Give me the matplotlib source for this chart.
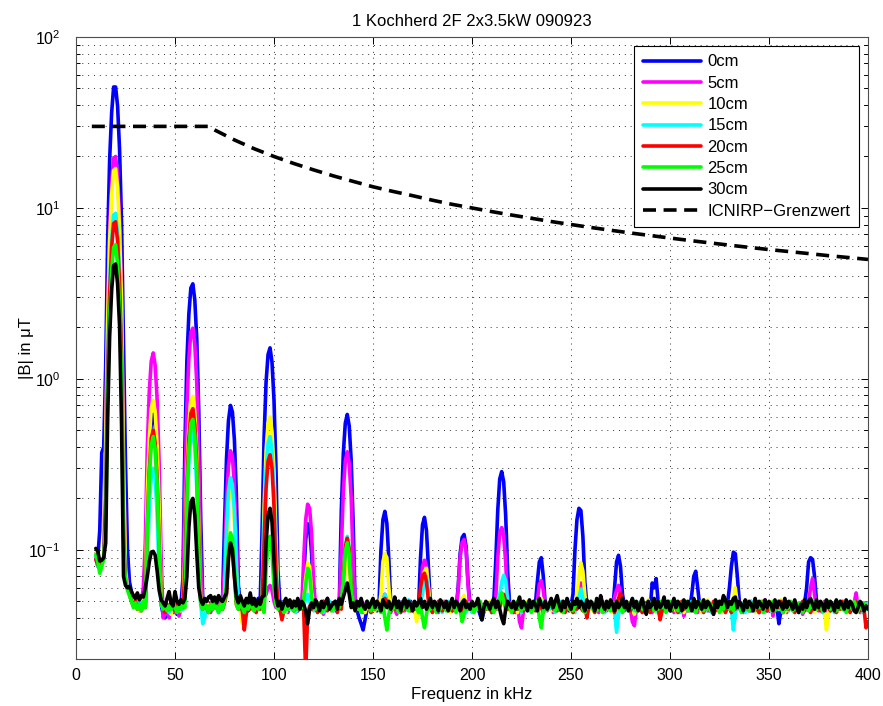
import numpy as np
import matplotlib
matplotlib.use("Agg")
import matplotlib.pyplot as plt
from matplotlib.ticker import LogLocator, FixedLocator, NullFormatter

plt.rcParams['font.family'] = ['Liberation Sans', 'DejaVu Sans']
plt.rcParams['mathtext.fontset'] = 'custom'
plt.rcParams['mathtext.rm'] = 'Liberation Sans'
plt.rcParams['mathtext.it'] = 'Liberation Sans:italic'

title = "1 Kochherd 2F 2x3.5kW 090923"
xlabel = "Frequenz in kHz"
ylabel = "|B| in μT"

# frequency bins (kHz), 1 kHz spacing from 10 to 400
freq_khz = np.arange(10, 401)

labels = ["0cm", "5cm", "10cm", "15cm", "20cm", "25cm", "30cm"]
colors = ["#0000ff", "#ff00ff", "#ffff00", "#00ffff", "#ff0000", "#00ff00", "#000000"]

# |B| values in nT, one row per 10 kHz
b_0cm_nt = [
    95, 90, 130, 370, 400, 1200, 6600, 19300, 36000, 51000,
    51000, 39500, 22000, 8200, 1600, 320, 100, 65, 57, 52,
    48, 51, 45, 49, 52, 47, 170, 360, 550, 620,
    530, 330, 140, 48, 42, 40, 44, 41, 46, 43,
    47, 42, 45, 48, 68, 410, 1270, 2400, 3400, 3600,
    2900, 1700, 650, 150, 52, 47, 44, 49, 46, 50,
    47, 52, 48, 45, 50, 140, 340, 570, 700, 640,
    440, 210, 62, 48, 45, 50, 47, 44, 49, 46,
    50, 47, 52, 48, 135, 460, 960, 1390, 1520, 1250,
    750, 300, 76, 48, 45, 50, 47, 44, 49, 46,
    50, 47, 44, 49, 46, 67, 115, 142, 134, 95,
    52, 47, 44, 49, 46, 50, 47, 52, 45, 49,
    46, 50, 47, 50, 170, 365, 550, 620, 530, 330,
    140, 48, 44, 40, 37, 34, 39, 45, 48, 46,
    49, 46, 44, 47, 99, 150, 168, 143, 88, 47,
    49, 45, 48, 50, 46, 44, 49, 47, 45, 50,
    47, 44, 48, 46, 90, 140, 155, 130, 80, 48,
    45, 49, 47, 44, 50, 46, 48, 45, 49, 47,
    44, 48, 46, 60, 95, 118, 123, 105, 65, 47,
    49, 45, 48, 46, 42, 39, 44, 48, 46, 49,
    45, 50, 86, 170, 260, 287, 250, 160, 75, 48,
    46, 49, 45, 48, 47, 44, 49, 46, 48, 45,
    49, 46, 48, 65, 85, 90, 70, 48, 45, 49,
    46, 48, 44, 49, 47, 45, 48, 46, 49, 44,
    47, 55, 100, 150, 175, 170, 120, 65, 48, 45,
    49, 46, 48, 44, 47, 49, 45, 48, 46, 49,
    47, 44, 60, 85, 93, 80, 55, 47, 45, 49,
    46, 48, 44, 47, 49, 45, 48, 46, 49, 47,
    45, 64, 60, 68, 50, 47, 44, 48, 46, 49,
    47, 45, 48, 46, 49, 44, 47, 49, 45, 48,
    46, 55, 70, 75, 60, 47, 45, 49, 46, 48,
    44, 47, 49, 45, 48, 46, 49, 47, 44, 48,
    60, 80, 97, 95, 70, 50, 46, 48, 45, 49,
    47, 44, 48, 46, 49, 45, 48, 46, 49, 44,
    47, 49, 45, 48, 46, 37, 44, 48, 46, 49,
    45, 48, 46, 49, 47, 44, 48, 46, 49, 60,
    85, 90, 88, 70, 50, 46, 49, 45, 48, 46,
    49, 44, 47, 49, 45, 48, 46, 49, 47, 44,
    48, 46, 49, 45, 48, 46, 44, 49, 47, 45,
    47,
]
b_5cm_nt = [
    90, 80, 83, 85, 90, 470, 2600, 7600, 14100, 19500,
    20000, 15500, 8700, 3200, 350, 80, 62, 58, 54, 50,
    47, 52, 44, 50, 60, 110, 390, 840, 1270, 1420,
    1200, 750, 320, 90, 40, 42, 46, 40, 44, 48,
    43, 47, 41, 45, 49, 220, 690, 1320, 1870, 1980,
    1590, 940, 360, 83, 48, 45, 50, 46, 43, 49,
    46, 50, 44, 48, 52, 77, 190, 310, 380, 350,
    240, 116, 52, 46, 49, 44, 48, 45, 50, 47,
    44, 49, 46, 50, 47, 52, 55, 60, 62, 58,
    50, 46, 49, 44, 48, 46, 50, 43, 47, 49,
    45, 48, 44, 50, 46, 88, 150, 185, 175, 124,
    65, 47, 44, 49, 46, 42, 48, 45, 50, 47,
    44, 49, 46, 48, 100, 220, 330, 375, 320, 200,
    84, 48, 45, 49, 46, 43, 48, 50, 46, 44,
    49, 47, 45, 50, 46, 52, 55, 50, 46, 43,
    48, 45, 42, 49, 46, 50, 44, 47, 45, 49,
    46, 43, 48, 45, 50, 80, 87, 80, 60, 47,
    45, 49, 46, 43, 48, 45, 50, 47, 44, 49,
    46, 48, 45, 58, 90, 110, 115, 100, 62, 46,
    49, 44, 47, 45, 50, 46, 43, 48, 45, 49,
    46, 48, 52, 90, 125, 135, 120, 85, 50, 45,
    48, 46, 43, 49, 38, 35, 44, 48, 46, 50,
    45, 48, 46, 50, 63, 66, 58, 47, 44, 49,
    46, 43, 48, 45, 50, 46, 44, 49, 46, 48,
    45, 49, 46, 50, 62, 64, 52, 47, 44, 48,
    46, 49, 45, 48, 43, 47, 50, 46, 44, 49,
    46, 48, 53, 58, 62, 55, 47, 44, 49, 46,
    45, 38, 36, 45, 49, 46, 48, 44, 47, 50,
    46, 43, 48, 45, 49, 46, 44, 48, 46, 50,
    45, 48, 43, 49, 46, 44, 48, 41, 46, 49,
    44, 47, 50, 46, 43, 48, 45, 49, 46, 44,
    48, 46, 42, 49, 45, 48, 46, 50, 44, 47,
    49, 46, 44, 48, 45, 50, 46, 43, 48, 45,
    47, 50, 44, 46, 49, 43, 47, 45, 51, 46,
    44, 49, 41, 47, 45, 50, 46, 44, 48, 43,
    48, 45, 47, 50, 44, 46, 49, 42, 47, 45,
    50, 60, 68, 55, 46, 44, 48, 45, 50, 46,
    43, 48, 45, 49, 46, 44, 48, 45, 50, 46,
    44, 48, 45, 49, 56, 46, 43, 48, 45, 49,
    46,
]
b_10cm_nt = [
    95, 85, 80, 88, 90, 400, 2200, 6400, 12000, 16600,
    17000, 13200, 7400, 2750, 300, 75, 60, 57, 52, 49,
    46, 50, 44, 48, 51, 47, 210, 440, 670, 750,
    640, 400, 170, 52, 46, 44, 48, 45, 42, 47,
    50, 45, 48, 44, 47, 90, 280, 530, 750, 790,
    640, 370, 140, 50, 46, 44, 49, 46, 48, 45,
    49, 46, 44, 48, 46, 50, 110, 190, 230, 210,
    145, 70, 48, 45, 37, 44, 48, 46, 50, 45,
    47, 44, 49, 46, 53, 180, 380, 550, 600, 490,
    290, 120, 48, 45, 49, 46, 43, 48, 45, 50,
    46, 44, 49, 46, 48, 50, 68, 84, 80, 56,
    48, 45, 49, 46, 43, 48, 45, 50, 46, 44,
    48, 45, 49, 46, 50, 55, 80, 90, 78, 50,
    46, 44, 48, 45, 49, 46, 43, 48, 45, 50,
    46, 44, 48, 45, 55, 85, 95, 90, 60, 47,
    45, 48, 46, 44, 49, 45, 48, 46, 50, 44,
    47, 45, 38, 46, 52, 65, 75, 78, 60, 46,
    48, 45, 49, 46, 44, 48, 45, 50, 46, 43,
    48, 45, 49, 46, 48, 52, 54, 48, 45, 49,
    46, 43, 48, 45, 49, 46, 44, 48, 45, 50,
    46, 44, 48, 45, 50, 53, 48, 46, 44, 49,
    46, 48, 45, 43, 49, 46, 48, 45, 50, 46,
    44, 48, 45, 49, 50, 52, 48, 45, 49, 46,
    44, 48, 45, 50, 46, 43, 48, 45, 49, 46,
    44, 48, 45, 55, 70, 84, 75, 54, 45, 49,
    46, 44, 48, 45, 50, 46, 43, 48, 45, 49,
    47, 43, 49, 46, 44, 50, 45, 47, 49, 44,
    50, 46, 42, 47, 45, 49, 44, 48, 46, 51,
    45, 47, 49, 43, 46, 50, 45, 48, 44, 47,
    49, 45, 51, 44, 47, 46, 50, 43, 48, 46,
    44, 49, 46, 50, 45, 47, 43, 49, 46, 51,
    45, 48, 44, 47, 50, 46, 49, 43, 47, 45,
    50, 46, 52, 60, 48, 45, 49, 46, 44, 48,
    45, 49, 46, 43, 48, 45, 50, 46, 44, 48,
    46, 50, 44, 47, 49, 45, 51, 46, 43, 48,
    44, 49, 46, 50, 45, 47, 49, 44, 48, 46,
    49, 45, 47, 43, 48, 45, 50, 46, 44, 34,
    42, 48, 45, 49, 46, 44, 48, 45, 50, 46,
    43, 48, 45, 49, 46, 44, 48, 45, 49, 46,
    44,
]
b_15cm_nt = [
    92, 80, 82, 86, 88, 220, 1200, 3500, 6600, 9100,
    9300, 7200, 4000, 1500, 150, 70, 60, 56, 52, 49,
    53, 46, 49, 45, 50, 47, 85, 180, 270, 300,
    260, 160, 70, 48, 45, 49, 46, 43, 48, 45,
    49, 46, 44, 48, 45, 50, 170, 330, 470, 490,
    400, 230, 90, 48, 37, 40, 46, 44, 48, 45,
    49, 46, 43, 48, 45, 53, 130, 220, 265, 240,
    170, 80, 49, 45, 48, 44, 47, 45, 50, 46,
    44, 48, 45, 49, 50, 140, 290, 420, 460, 380,
    220, 90, 48, 45, 49, 46, 44, 48, 45, 49,
    46, 43, 48, 45, 50, 46, 52, 55, 50, 46,
    44, 48, 45, 49, 46, 43, 48, 45, 50, 46,
    44, 48, 45, 49, 46, 70, 107, 120, 102, 63,
    48, 45, 49, 46, 44, 48, 45, 50, 46, 43,
    48, 45, 49, 46, 44, 50, 55, 50, 46, 44,
    47, 50, 45, 48, 43, 46, 49, 45, 51, 44,
    48, 45, 49, 46, 50, 55, 68, 70, 55, 46,
    44, 48, 45, 49, 46, 43, 48, 45, 50, 46,
    45, 49, 44, 47, 46, 50, 48, 43, 49, 46,
    43, 48, 45, 50, 46, 44, 48, 45, 49, 46,
    43, 48, 45, 50, 55, 65, 71, 66, 50, 46,
    47, 44, 49, 45, 48, 43, 50, 46, 44, 48,
    44, 48, 45, 49, 46, 50, 46, 44, 48, 45,
    49, 46, 43, 48, 45, 50, 46, 44, 48, 45,
    49, 46, 43, 48, 52, 59, 52, 46, 44, 48,
    46, 49, 44, 47, 50, 45, 48, 43, 46, 49,
    45, 49, 44, 33, 42, 48, 45, 50, 46, 44,
    49, 46, 44, 47, 45, 50, 43, 48, 46, 44,
    47, 49, 45, 48, 43, 46, 50, 44, 47, 45,
    49, 44, 47, 50, 46, 43, 48, 45, 49, 46,
    44, 50, 46, 43, 48, 45, 49, 47, 44, 48,
    46, 43, 49, 45, 48, 50, 44, 46, 49, 45,
    48, 45, 34, 42, 48, 45, 49, 46, 43, 48,
    45, 50, 46, 44, 48, 45, 49, 46, 43, 48,
    47, 44, 49, 46, 50, 45, 47, 43, 48, 46,
    44, 48, 45, 50, 46, 43, 49, 47, 44, 48,
    46, 50, 44, 47, 49, 45, 48, 43, 46, 50,
    45, 48, 46, 43, 49, 45, 50, 46, 44, 48,
    47, 44, 49, 45, 48, 50, 46, 43, 48, 45,
    49,
]
b_20cm_nt = [
    88, 82, 78, 84, 90, 195, 1070, 3150, 5900, 8100,
    8300, 6400, 3600, 1350, 120, 65, 60, 55, 50, 47,
    50, 45, 48, 44, 49, 46, 140, 290, 450, 500,
    420, 260, 110, 50, 46, 43, 48, 45, 49, 46,
    44, 48, 45, 50, 46, 76, 240, 450, 630, 670,
    540, 320, 120, 50, 45, 49, 46, 43, 48, 45,
    50, 46, 44, 48, 45, 49, 55, 90, 110, 100,
    70, 48, 45, 49, 44, 34, 42, 48, 45, 49,
    46, 43, 48, 45, 50, 110, 230, 330, 360, 300,
    180, 72, 48, 45, 39, 44, 48, 45, 50, 46,
    44, 48, 45, 49, 46, 44, 19, 42, 47, 45,
    49, 46, 43, 48, 45, 50, 46, 44, 48, 45,
    49, 46, 43, 48, 45, 69, 104, 117, 100, 61,
    48, 45, 50, 46, 44, 48, 45, 49, 46, 43,
    48, 45, 50, 46, 44, 48, 52, 50, 46, 44,
    48, 45, 49, 46, 43, 48, 45, 50, 46, 44,
    48, 45, 49, 46, 60, 70, 73, 65, 50, 46,
    43, 48, 45, 50, 46, 44, 48, 45, 49, 46,
    44, 47, 49, 45, 48, 43, 46, 50, 45, 47,
    49, 44, 47, 50, 46, 43, 48, 45, 49, 46,
    43, 48, 45, 50, 46, 52, 55, 50, 45, 49,
    46, 43, 48, 45, 50, 46, 44, 48, 45, 49,
    45, 48, 44, 47, 49, 46, 43, 50, 45, 47,
    49, 45, 47, 44, 48, 46, 50, 43, 47, 45,
    46, 43, 48, 45, 50, 46, 44, 48, 40, 46,
    49, 46, 43, 48, 45, 50, 46, 44, 48, 45,
    49, 46, 43, 48, 52, 56, 48, 45, 49, 46,
    44, 47, 49, 45, 48, 46, 43, 49, 47, 44,
    43, 48, 45, 50, 46, 39, 44, 48, 45, 49,
    47, 44, 49, 46, 43, 48, 50, 45, 47, 44,
    46, 49, 44, 47, 45, 50, 46, 43, 48, 45,
    48, 45, 50, 44, 47, 49, 45, 48, 43, 46,
    46, 43, 48, 45, 50, 46, 44, 48, 45, 49,
    44, 48, 46, 49, 45, 43, 47, 50, 46, 44,
    49, 45, 47, 44, 48, 46, 50, 43, 47, 45,
    45, 49, 46, 43, 48, 45, 47, 50, 44, 46,
    46, 43, 48, 45, 50, 46, 44, 48, 45, 49,
    47, 44, 49, 46, 43, 48, 45, 50, 46, 44,
    46, 43, 48, 45, 50, 46, 44, 48, 45, 35,
    38,
]
b_25cm_nt = [
    94, 85, 73, 80, 88, 140, 780, 2300, 4300, 5900,
    6100, 4700, 2600, 980, 100, 65, 58, 54, 50, 46,
    49, 45, 48, 44, 50, 46, 130, 270, 410, 460,
    390, 240, 100, 50, 45, 48, 44, 47, 45, 49,
    46, 43, 48, 45, 49, 46, 200, 390, 550, 580,
    470, 280, 100, 48, 45, 49, 46, 43, 48, 45,
    49, 46, 43, 48, 45, 50, 62, 104, 126, 116,
    80, 48, 45, 49, 46, 43, 48, 45, 50, 46,
    44, 48, 45, 49, 46, 43, 76, 110, 120, 98,
    60, 48, 45, 49, 46, 43, 48, 45, 50, 46,
    44, 48, 45, 49, 46, 52, 63, 78, 74, 53,
    48, 45, 49, 46, 43, 48, 45, 50, 46, 44,
    48, 45, 49, 46, 50, 65, 98, 110, 94, 58,
    48, 45, 49, 46, 43, 48, 45, 50, 46, 44,
    48, 45, 49, 46, 43, 48, 40, 34, 42, 48,
    45, 49, 46, 43, 48, 45, 50, 46, 44, 48,
    45, 49, 46, 43, 48, 40, 35, 42, 48, 45,
    49, 46, 43, 48, 45, 50, 46, 44, 48, 45,
    49, 46, 43, 48, 45, 38, 42, 48, 45, 49,
    46, 43, 48, 45, 50, 46, 44, 48, 45, 49,
    46, 43, 48, 45, 52, 56, 50, 45, 49, 46,
    43, 48, 45, 50, 46, 44, 48, 45, 49, 46,
    43, 48, 45, 50, 40, 35, 44, 48, 45, 49,
    47, 50, 44, 48, 45, 49, 43, 47, 50, 45,
    48, 44, 47, 50, 46, 49, 45, 43, 48, 46,
    50, 45, 48, 44, 49, 47, 43, 46, 50, 45,
    44, 49, 46, 50, 45, 48, 43, 47, 49, 45,
    48, 46, 50, 44, 47, 49, 45, 48, 43, 50,
    46, 49, 44, 47, 45, 50, 46, 48, 43, 47,
    50, 45, 48, 46, 44, 49, 45, 47, 50, 44,
    47, 49, 45, 43, 48, 46, 50, 44, 47, 45,
    49, 44, 47, 50, 46, 43, 48, 45, 49, 46,
    45, 48, 44, 50, 46, 49, 43, 47, 45, 50,
    44, 47, 49, 45, 48, 46, 50, 43, 47, 49,
    48, 45, 50, 44, 47, 49, 46, 43, 48, 45,
    46, 50, 44, 48, 45, 49, 47, 43, 50, 46,
    44, 48, 46, 50, 45, 47, 49, 44, 48, 46,
    50, 45, 47, 49, 44, 46, 50, 45, 48, 43,
    47, 49, 45, 50, 46, 44, 48, 45, 49, 47,
    45,
]
b_30cm_nt = [
    102, 98, 86, 87, 90, 110, 600, 1780, 3300, 4600,
    4700, 3600, 2050, 550, 70, 62, 60, 61, 57, 54,
    52, 56, 51, 54, 53, 60, 70, 85, 97, 98,
    93, 75, 58, 51, 49, 47, 52, 57, 49, 47,
    57, 50, 48, 51, 49, 52, 70, 135, 190, 200,
    160, 95, 60, 51, 48, 52, 50, 53, 54, 50,
    53, 49, 54, 51, 50, 53, 56, 90, 110, 100,
    70, 53, 49, 54, 50, 47, 52, 49, 56, 48,
    52, 47, 51, 48, 53, 54, 110, 160, 175, 145,
    86, 53, 47, 50, 45, 49, 52, 47, 51, 46,
    50, 47, 52, 45, 50, 48, 44, 37, 45, 49,
    46, 51, 48, 44, 50, 46, 49, 52, 45, 47,
    49, 50, 45, 52, 48, 53, 58, 64, 55, 46,
    49, 44, 50, 47, 52, 47, 45, 50, 46, 49,
    52, 46, 50, 48, 44, 51, 48, 46, 50, 45,
    48, 53, 46, 50, 44, 49, 52, 46, 50, 48,
    44, 50, 47, 49, 52, 46, 50, 45, 48, 52,
    46, 50, 48, 44, 51, 49, 46, 50, 44, 48,
    52, 46, 50, 48, 44, 49, 51, 46, 48, 45,
    50, 47, 48, 52, 45, 39, 46, 50, 48, 45,
    49, 52, 46, 50, 45, 40, 37, 45, 50, 48,
    46, 50, 45, 48, 53, 46, 50, 48, 44, 51,
    46, 50, 48, 44, 52, 48, 46, 50, 45, 48,
    52, 46, 50, 54, 48, 44, 50, 46, 52, 48,
    45, 50, 48, 52, 46, 50, 48, 44, 51, 46,
    50, 48, 44, 52, 46, 54, 48, 45, 50, 46,
    51, 48, 44, 50, 46, 48, 52, 46, 50, 44,
    48, 52, 46, 50, 44, 48, 52, 46, 42, 50,
    46, 48, 52, 45, 50, 46, 48, 53, 46, 50,
    44, 48, 52, 46, 50, 48, 44, 51, 46, 50,
    48, 44, 52, 46, 50, 48, 45, 51, 46, 50,
    48, 45, 42, 51, 46, 50, 48, 54, 51, 46,
    50, 48, 52, 53, 46, 50, 48, 44, 51, 46,
    50, 48, 44, 52, 46, 50, 48, 45, 51, 46,
    50, 48, 44, 51, 46, 50, 48, 45, 52, 46,
    50, 48, 45, 51, 46, 43, 48, 45, 51, 46,
    50, 52, 48, 45, 51, 46, 50, 48, 44, 51,
    46, 50, 48, 44, 51, 46, 50, 48, 45, 51,
    46, 50, 48, 44, 43, 46, 50, 48, 44, 47,
    45,
]
series_nt = [b_0cm_nt, b_5cm_nt, b_10cm_nt, b_15cm_nt, b_20cm_nt, b_25cm_nt, b_30cm_nt]

# ICNIRP reference level (µT)
icnirp_f_khz = [8, 20, 40, 60, 66.7, 70, 80, 90, 100, 110, 120, 130, 140, 150, 160, 170, 180, 190,
                200, 210, 220, 230, 240, 250, 260, 270, 280, 290, 300, 310, 320, 330, 340, 350,
                360, 370, 380, 390, 400]
icnirp_b_ut = [30, 30, 30, 30, 30, 28.6, 25, 22.2, 20, 18.2, 16.7, 15.4, 14.3, 13.3, 12.5, 11.8,
               11.1, 10.5, 10, 9.52, 9.09, 8.7, 8.33, 8, 7.69, 7.41, 7.14, 6.9, 6.67, 6.45, 6.25,
               6.06, 5.88, 5.71, 5.56, 5.41, 5.26, 5.13, 5.0]
icnirp_label = "ICNIRP\u2212Grenzwert"

W, H, DPI = 883, 706, 100
fig = plt.figure(figsize=(W / DPI, H / DPI), dpi=DPI)
ax = fig.add_axes([76 / W, 1 - 659 / H, (868 - 76) / W, (659 - 37) / H])

for vals, col, lab in zip(series_nt, colors, labels):
    ax.plot(freq_khz, np.asarray(vals, dtype=float) / 1000.0, color=col, lw=2.6,
            label=lab, solid_joinstyle='round', solid_capstyle='round')
ax.plot(icnirp_f_khz, icnirp_b_ut, color='k', lw=2.6, dashes=(3.6, 2.1), label=icnirp_label)

ax.set_yscale('log')
ax.set_xlim(0, 400)
ax.set_ylim(0.023, 100)
ax.xaxis.set_major_locator(FixedLocator(list(range(0, 401, 50))))
ax.yaxis.set_major_locator(LogLocator(base=10, numticks=10))
ax.yaxis.set_minor_locator(LogLocator(base=10, subs=np.arange(2, 10), numticks=20))
ax.yaxis.set_minor_formatter(NullFormatter())

gls = (0, (1, 5))
ax.grid(True, which='major', axis='both', color='0.2', lw=0.7, linestyle=gls)
ax.grid(True, which='minor', axis='y', color='0.2', lw=0.7, linestyle=gls)
ax.set_axisbelow(True)

ax.tick_params(which='both', direction='in', top=True, right=True, labelsize=11.5, colors='k')
ax.tick_params(axis='y', which='major', pad=11)
ax.tick_params(axis='x', which='major', pad=6.5)
ax.tick_params(which='major', length=5, width=0.7)
ax.tick_params(which='minor', length=3, width=0.7)
for s in ax.spines.values():
    s.set_linewidth(0.8)
    s.set_color('0.3')

ax.set_title(title, fontsize=12, pad=8)
ax.set_xlabel(xlabel, fontsize=12, labelpad=3)
ax.set_ylabel(ylabel, fontsize=12, labelpad=-4)

leg = ax.legend(loc='upper right', fontsize=12, frameon=True, fancybox=False,
                edgecolor='k', framealpha=1, borderpad=0.5, labelspacing=0.38,
                handlelength=3.5, handletextpad=0.4, borderaxespad=0.55)
leg.get_frame().set_linewidth(0.8)

fig.savefig("out.png", dpi=DPI)
